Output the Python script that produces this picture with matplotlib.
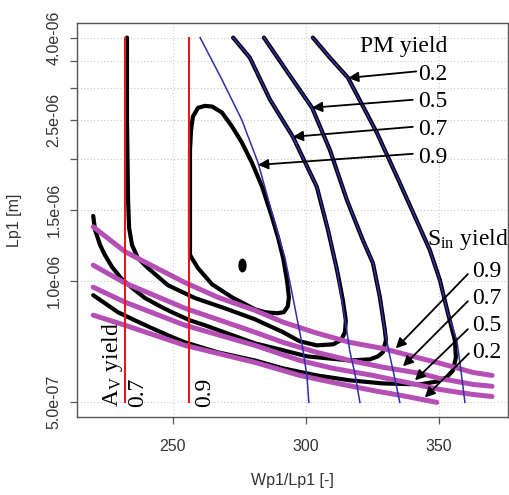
import matplotlib
matplotlib.use("Agg")
import matplotlib.pyplot as plt
from matplotlib.path import Path
from matplotlib.transforms import Affine2D
from matplotlib.ticker import FixedLocator, FixedFormatter, NullLocator

plt.rcParams["mathtext.fontset"] = "custom"
plt.rcParams["mathtext.rm"] = "Liberation Serif"
plt.rcParams["mathtext.it"] = "Liberation Serif:italic"

# Lp1 values below are in micrometres; they are scaled to metres when drawn
UM = 1e-6

# ---- PM yield contours (Wp1/Lp1, Lp1 [um]) ----
pm_labels = ["0.2", "0.5", "0.7", "0.9"]
pm09_x = [260.2, 268.4, 275.9, 282.0, 288.3, 292.1, 294.0, 296.6, 298.5, 300.4, 301.1]
pm09_y = [4.00, 3.15, 2.50, 1.96, 1.39, 1.14, 0.99, 0.81, 0.70, 0.58, 0.50]
pm07_x = [272.6, 278.9, 286.5, 295.1, 304.1, 308.3, 311.7, 313.5, 315.0, 316.5, 318.4, 320.3]
pm07_y = [4.00, 3.57, 2.81, 2.27, 1.71, 1.34, 1.06, 0.90, 0.78, 0.67, 0.59, 0.50]
pm05_x = [284.2, 293.2, 302.3, 309.0, 315.4, 321.4, 325.2, 327.8, 329.7, 331.6, 333.5, 335.3]
pm05_y = [4.00, 3.28, 2.68, 2.11, 1.59, 1.26, 1.11, 0.91, 0.75, 0.65, 0.57, 0.50]
pm02_x = [302.6, 309.0, 315.8, 326.7, 335.3, 342.9, 346.6, 350.4, 353.4, 356.8, 358.3, 359.8]
pm02_y = [4.00, 3.57, 3.18, 2.32, 1.75, 1.35, 1.19, 1.00, 0.83, 0.71, 0.60, 0.50]

# ---- S_in yield contours ----
sin_labels = ["0.9", "0.7", "0.5", "0.2"]
sin09_x = [220.0, 232.0, 242.1, 254.5, 266.9, 280.8, 291.4, 304.1, 316.5, 328.9, 342.9, 350.4, 362.8, 370.0]
sin09_y = [1.36, 1.18, 1.09, 0.99, 0.91, 0.845, 0.79, 0.742, 0.704, 0.68, 0.643, 0.625, 0.593, 0.583]
sin07_x = [220.0, 232.0, 254.5, 280.8, 291.4, 304.1, 316.5, 328.9, 342.9, 350.4, 362.8, 370.0]
sin07_y = [1.093, 0.987, 0.855, 0.746, 0.704, 0.665, 0.635, 0.611, 0.590, 0.573, 0.554, 0.548]
sin05_x = [220.0, 232.0, 254.5, 280.8, 297.7, 310.2, 325.2, 338.0, 350.4, 362.8, 370.0]
sin05_y = [0.964, 0.885, 0.776, 0.692, 0.635, 0.607, 0.583, 0.560, 0.538, 0.523, 0.517]
sin02_x = [220.0, 232.0, 254.5, 280.8, 297.7, 310.2, 325.2, 338.0, 349.2]
sin02_y = [0.822, 0.776, 0.692, 0.628, 0.583, 0.560, 0.535, 0.517, 0.500]

# ---- A_v yield contours (vertical) ----
av_labels = ["0.7", "0.9"]
av_x = [232.0, 256.0]
av_y = [0.50, 4.00]

# ---- total yield contours ----
totA_x = [256.4, 256.4, 256.4, 256.8, 257.5, 259.4, 262.0, 264.7, 268.4, 272.2, 275.9, 279.7,
          283.5, 287.2, 289.5, 291.4, 292.9, 293.6, 293.2, 291.7, 289.1, 284.6, 280.8, 272.2,
          264.7, 259.4, 256.4]
totA_y = [1.158, 1.585, 2.109, 2.364, 2.55, 2.68, 2.71, 2.70, 2.61, 2.41, 2.20, 1.96,
          1.71, 1.44, 1.28, 1.14, 1.00, 0.91, 0.865, 0.836, 0.831, 0.836, 0.85, 0.91,
          0.98, 1.075, 1.158]
totB_x = [232.7, 232.7, 233.1, 233.5, 234.6, 236.8, 240.6, 248.1, 258.3, 269.5, 280.8, 291.4,
          297.7, 304.1, 310.2, 313.2, 314.7, 315.0, 313.9, 311.7, 308.3, 304.1, 295.1, 286.5,
          278.9, 272.6]
totB_y = [4.00, 2.50, 1.585, 1.351, 1.226, 1.138, 1.075, 0.975, 0.906, 0.855, 0.803, 0.746,
          0.708, 0.692, 0.696, 0.713, 0.746, 0.798, 0.895, 1.063, 1.335, 1.708, 2.272, 2.806,
          3.568, 4.00]
totC_x = [220.0, 220.7, 222.6, 224.4, 227.1, 230.8, 235.7, 239.5, 245.1, 249.6, 256.4, 262.0,
          271.4, 280.8, 291.4, 300.4, 316.5, 324.1, 327.1, 328.9, 330.1, 329.7, 327.8, 325.2,
          321.4, 315.4, 309.0, 302.3, 293.2, 284.2]
totC_y = [1.447, 1.335, 1.226, 1.158, 1.081, 1.009, 0.948, 0.906, 0.865, 0.836, 0.798, 0.776,
          0.737, 0.700, 0.673, 0.650, 0.635, 0.639, 0.650, 0.665, 0.713, 0.754, 0.911, 1.106,
          1.261, 1.585, 2.109, 2.682, 3.275, 4.00]
totD_x = [220.0, 224.4, 229.3, 235.7, 242.1, 248.9, 254.5, 266.9, 280.8, 291.4, 304.1, 316.5,
          328.9, 342.9, 349.2, 353.0, 355.3, 356.4, 356.0, 353.4, 350.4, 346.6, 342.9, 335.3,
          326.7, 315.8, 309.0, 302.6]
totD_y = [0.921, 0.880, 0.836, 0.798, 0.763, 0.729, 0.704, 0.665, 0.635, 0.607, 0.583, 0.567,
          0.557, 0.554, 0.563, 0.577, 0.600, 0.646, 0.713, 0.831, 1.003, 1.191, 1.351, 1.747,
          2.324, 3.183, 3.568, 4.00]
peak_x = [275.9]
peak_y = [1.093]

# ---- axis ticks ----
x_ticks = [250, 300, 350]
y_ticks = [0.5, 1.0, 1.5, 2.0, 2.5, 3.0, 3.5, 4.0]
y_ticklabels = ["5.0e-07", "1.0e-06", "1.5e-06", "", "2.5e-06", "", "", "4.0e-06"]


def um(vals):
    return [v * UM for v in vals]


fig = plt.figure(figsize=(5.09, 4.95), dpi=100)
ax = fig.add_axes([77 / 509, 78 / 495, 431 / 509, 394 / 495])
ax.set_yscale("log")
ax.set_xlim(213.9, 376.0)
ax.set_ylim(4.60e-7, 4.347e-6)

black_kw = dict(color="black", lw=3.0, solid_capstyle="round", solid_joinstyle="round", zorder=2)
for xs, ys in [(totA_x, totA_y), (totB_x, totB_y), (totC_x, totC_y), (totD_x, totD_y)]:
    ax.plot(xs, um(ys), **black_kw)

ell = Affine2D().scale(0.55, 1.0).transform_path(Path.unit_circle())
ax.plot(peak_x, um(peak_y), ls="none", marker=ell, ms=9, color="black", zorder=2)

sin_kw = dict(color="#b54fb6", lw=3.6, solid_capstyle="round", solid_joinstyle="round", zorder=3)
for xs, ys in [(sin09_x, sin09_y), (sin07_x, sin07_y), (sin05_x, sin05_y), (sin02_x, sin02_y)]:
    ax.plot(xs, um(ys), **sin_kw)

pm_kw = dict(color="#2f2fa8", lw=1.1, zorder=4)
for xs, ys in [(pm09_x, pm09_y), (pm07_x, pm07_y), (pm05_x, pm05_y), (pm02_x, pm02_y)]:
    ax.plot(xs, um(ys), **pm_kw)

for xv in av_x:
    ax.plot([xv, xv], um(av_y), color="#e31a1c", lw=1.5, zorder=5)

# grid
for xv in x_ticks:
    ax.axvline(xv, color="#c8c8c8", lw=0.8, ls=(0, (1, 2)), zorder=0)
for yv in y_ticks:
    ax.axhline(yv * UM, color="#c8c8c8", lw=0.8, ls=(0, (1, 2)), zorder=0)

# axes styling
ax.xaxis.set_major_locator(FixedLocator(x_ticks))
ax.xaxis.set_minor_locator(NullLocator())
ax.yaxis.set_major_locator(FixedLocator(um(y_ticks)))
ax.yaxis.set_major_formatter(FixedFormatter(y_ticklabels))
ax.yaxis.set_minor_locator(NullLocator())
for sp in ax.spines.values():
    sp.set_color("#555555")
    sp.set_linewidth(1.0)
ax.tick_params(axis="both", length=5, width=0.9, color="#555555", labelcolor="#333333",
               labelsize=11.5)
ax.tick_params(axis="x", pad=11)
ax.tick_params(axis="y", pad=6, labelrotation=90)
for lab in ax.get_xticklabels() + ax.get_yticklabels():
    lab.set_fontfamily("Liberation Sans")
for lab in ax.get_yticklabels():
    lab.set_va("center")

ax.set_xlabel("Wp1/Lp1 [-]", fontsize=11.5, fontfamily="Liberation Sans", color="#333333")
ax.set_ylabel("Lp1 [m]", fontsize=11.5, fontfamily="Liberation Sans", color="#333333")
ax.xaxis.set_label_coords(0.5, -0.162)
ax.xaxis.label.set_va("center")
ax.yaxis.set_label_coords(-0.145, 0.5)
ax.yaxis.label.set_va("center")

serif = dict(fontfamily="Liberation Serif", fontsize=17, color="black", zorder=7)
arrow_kw = dict(arrowstyle="-|>", color="black", lw=1.3, mutation_scale=15, shrinkA=0, shrinkB=0)

# PM yield annotations
ax.text(320.3, 3.693 * UM, "PM yield", ha="left", va="baseline", **serif)
pm_text_y = [3.147, 2.697, 2.298, 1.958]
pm_tail_y = [3.299, 2.806, 2.405, 2.062]
pm_tail_x = [341.5, 340.2, 340.2, 340.2]
pm_head = [(315.9, 3.178), (302.3, 2.682), (295.1, 2.272), (282.0, 1.936)]
for lab, ty, tx, tyy, (hx, hy) in zip(pm_labels, pm_text_y, pm_tail_x, pm_tail_y, pm_head):
    ax.text(342.1, ty * UM, lab, ha="left", va="baseline", **serif)
    ax.annotate("", xy=(hx, hy * UM), xytext=(tx, tyy * UM), arrowprops=arrow_kw, zorder=7)

# S_in yield annotations
ax.text(345.5, 1.226 * UM, r"S$_{\mathrm{in}}$ yield", ha="left", va="baseline", **serif)
sin_text_y = [1.021, 0.875, 0.750, 0.643]
sin_tail = [(360.9, 1.039), (360.9, 0.890), (360.9, 0.759), (361.3, 0.661)]
sin_head = [(333.8, 0.680), (336.5, 0.614), (341.0, 0.567), (344.7, 0.514)]
for lab, ty, (tx, tyy), (hx, hy) in zip(sin_labels, sin_text_y, sin_tail, sin_head):
    ax.text(362.4, ty * UM, lab, ha="left", va="baseline", **serif)
    ax.annotate("", xy=(hx, hy * UM), xytext=(tx, tyy * UM), arrowprops=arrow_kw, zorder=7)

# A_v yield annotations
ax.text(227.1, 0.486 * UM, r"A$_{\mathrm{V}}$ yield", rotation=90, ha="center", va="bottom", **serif)
for lab, xv in zip(av_labels, [236.8, 262.0]):
    ax.text(xv, 0.486 * UM, lab, rotation=90, ha="center", va="bottom", **serif)

fig.savefig("out.png", dpi=100)
